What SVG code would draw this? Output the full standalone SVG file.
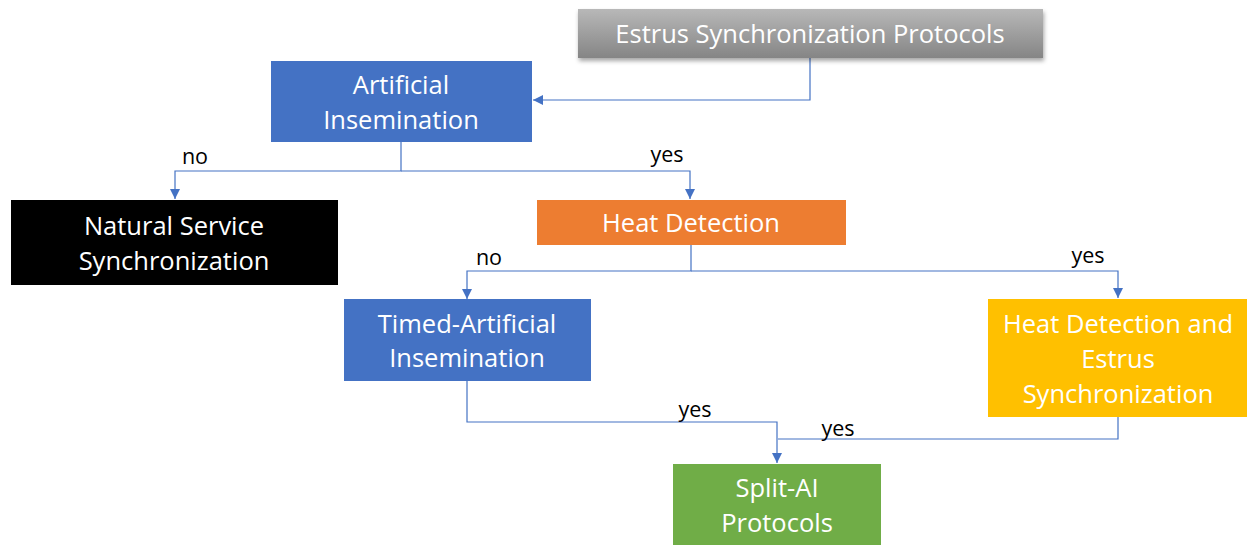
<svg xmlns="http://www.w3.org/2000/svg" width="1248" height="545" viewBox="0 0 1248 545">
<style>
.t{font-family:"Open Sans","Liberation Sans",sans-serif;font-size:25.5px;fill:#fff;text-anchor:middle}
.l{font-family:"Open Sans","Liberation Sans",sans-serif;font-size:21.5px;fill:#000;text-anchor:middle}
.c{fill:none;stroke:#4472C4;stroke-width:1.2}
</style>
<defs>
<linearGradient id="g" x1="0" y1="0" x2="0" y2="1">
<stop offset="0" stop-color="#b8b8b8"/>
<stop offset="1" stop-color="#858585"/>
</linearGradient>
<filter id="sh" x="-5%" y="-20%" width="110%" height="150%">
<feDropShadow dx="1" dy="3" stdDeviation="2" flood-color="#000" flood-opacity="0.35"/>
</filter>
<marker id="a" viewBox="0 0 10 10" refX="10" refY="5" markerWidth="10" markerHeight="10" markerUnits="userSpaceOnUse" orient="auto">
<path d="M0,0 L10,5 L0,10 z" fill="#4472C4"/>
</marker>
</defs>
<g id="connectors">
<path class="c" d="M810,58 V100 H533" marker-end="url(#a)"/>
<path class="c" d="M401,142 V171 H175 V199" marker-end="url(#a)"/>
<path class="c" d="M401,171 H690 V199" marker-end="url(#a)"/>
<path class="c" d="M691,245 V271 H467 V299" marker-end="url(#a)"/>
<path class="c" d="M691,271 H1118 V298" marker-end="url(#a)"/>
<path class="c" d="M467,381 V422 H777 V463" marker-end="url(#a)"/>
<path class="c" d="M1118,417 V439 H778"/>
<text class="l" x="195" y="164">no</text>
<text class="l" x="667" y="162">yes</text>
<text class="l" x="489" y="265">no</text>
<text class="l" x="1088" y="263">yes</text>
<text class="l" x="695" y="417">yes</text>
<text class="l" x="838" y="436">yes</text>
</g>
<g id="estrus-sync">
<rect x="578" y="9" width="465" height="49" fill="url(#g)" filter="url(#sh)"/>
<text class="t" x="810" y="43">Estrus Synchronization Protocols</text>
</g>
<g id="artificial-insemination">
<rect x="271" y="61" width="261" height="81" fill="#4472C4"/>
<text class="t" x="401" y="94">Artificial</text>
<text class="t" x="401" y="129">Insemination</text>
</g>
<g id="natural-service">
<rect x="11" y="200" width="327" height="85" fill="#000"/>
<text class="t" x="174" y="235">Natural Service</text>
<text class="t" x="174" y="270">Synchronization</text>
</g>
<g id="heat-detection">
<rect x="537" y="200" width="309" height="45" fill="#ED7D31"/>
<text class="t" x="691" y="232">Heat Detection</text>
</g>
<g id="timed-ai">
<rect x="344" y="299" width="247" height="82" fill="#4472C4"/>
<text class="t" x="467" y="333">Timed-Artificial</text>
<text class="t" x="467" y="367">Insemination</text>
</g>
<g id="heat-detection-estrus">
<rect x="988" y="299" width="259" height="118" fill="#FFC000"/>
<text class="t" x="1118" y="333">Heat Detection and</text>
<text class="t" x="1118" y="368">Estrus</text>
<text class="t" x="1118" y="403">Synchronization</text>
</g>
<g id="split-ai">
<rect x="673" y="464" width="208" height="81" fill="#70AD47"/>
<text class="t" x="777" y="497">Split-AI</text>
<text class="t" x="777" y="532">Protocols</text>
</g>
</svg>
